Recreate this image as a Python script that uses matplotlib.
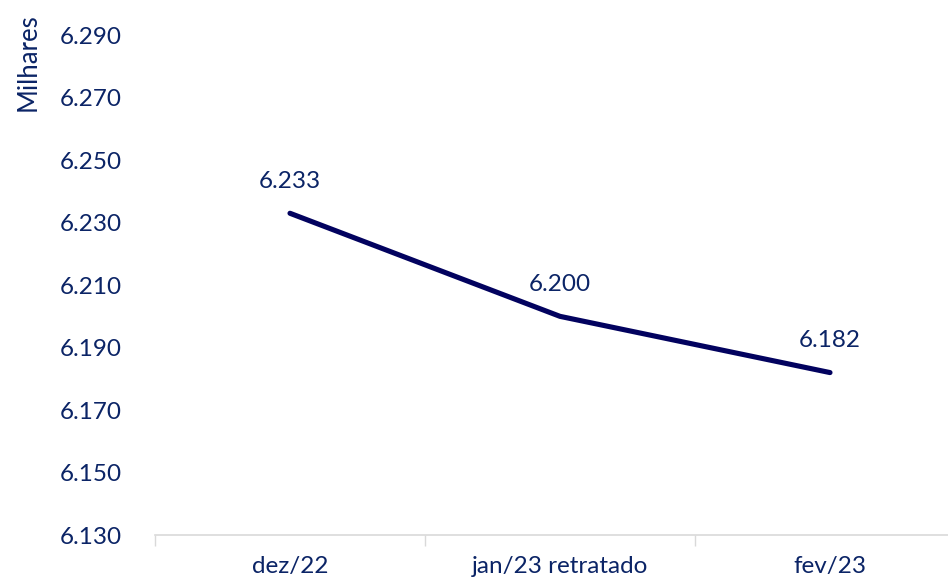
import matplotlib
matplotlib.use("Agg")
import matplotlib.pyplot as plt
from matplotlib.ticker import FuncFormatter

# data (milhares)
categories = ['dez/22', 'jan/23 retratado', 'fev/23']
values = [6233, 6200, 6182]
yticks = [6130, 6150, 6170, 6190, 6210, 6230, 6250, 6270, 6290]

text_color = '#0b2466'
line_color = '#02025f'
plt.rcParams['font.family'] = ['Lato', 'DejaVu Sans']

def fmt(v, pos=None):
    return f"{v:,.0f}".replace(',', '.')

W, H = 948, 583
fig = plt.figure(figsize=(W / 100, H / 100), dpi=100)
ax = fig.add_axes([155 / W, 48 / H, (W - 155) / W, 531 / H])

x = list(range(len(categories)))
ax.plot(x, values, color=line_color, linewidth=3.7, solid_capstyle='round')

for xi, v in zip(x, values):
    ax.annotate(fmt(v), (xi, v), xytext=(0, 23), textcoords='offset points',
                ha='center', va='center', fontsize=17.5, color=text_color)

ax.set_xlim(-0.5, 2.437)
ax.set_ylim(6130, 6300)
ax.set_yticks(yticks)
ax.yaxis.set_major_formatter(FuncFormatter(fmt))
ax.tick_params(axis='y', length=0, pad=24, labelsize=17.5, labelcolor=text_color)

ax.set_xticks(x)
ax.set_xticklabels(categories)
ax.set_xticks([-0.5, 0.5, 1.5], minor=True)
ax.tick_params(axis='x', which='major', length=0, pad=15, labelsize=17.5,
               labelcolor=text_color)
ax.tick_params(axis='x', which='minor', length=8, width=1, color='#d9d9d9')

for s in ['top', 'right', 'left']:
    ax.spines[s].set_visible(False)
ax.spines['bottom'].set_color('#d9d9d9')
ax.spines['bottom'].set_linewidth(1.2)

fig.text(28 / W, 1 - 62 / H, 'Milhares', rotation=90, ha='center', va='center',
         fontsize=18.5, color=text_color)

fig.savefig('out.png', dpi=100)
